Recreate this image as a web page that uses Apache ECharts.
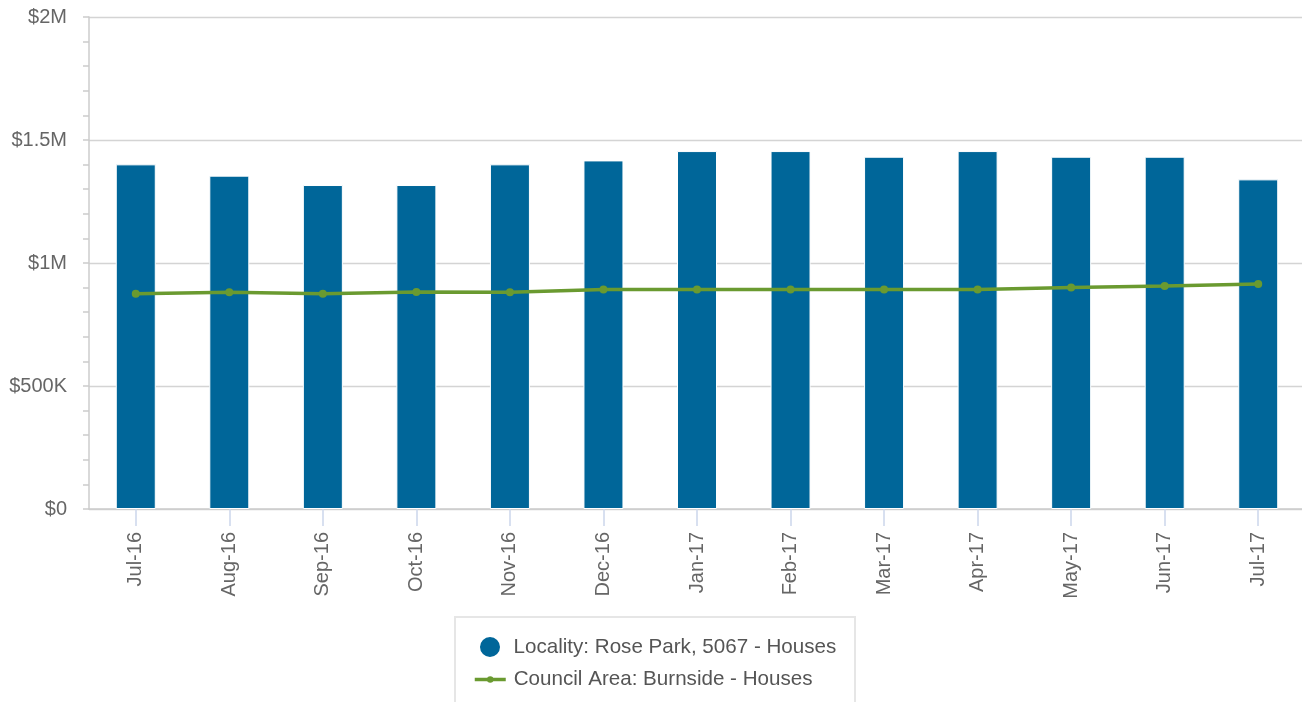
<!DOCTYPE html>
<html>
<head>
<meta charset="utf-8">
<script src="https://cdn.jsdelivr.net/npm/echarts@6/dist/echarts.min.js"></script>
<style>
html,body{margin:0;padding:0;background:#fff;overflow:hidden;width:1302px;height:702px;}
#chart{width:1305px;height:702px;}
</style>
</head>
<body>
<div id="chart"></div>
<script>
var categories = ['Jul-16','Aug-16','Sep-16','Oct-16','Nov-16','Dec-16','Jan-17','Feb-17','Mar-17','Apr-17','May-17','Jun-17','Jul-17'];
var localityValues = [1401000, 1355000, 1317000, 1317000, 1401000, 1417000, 1455000, 1455000, 1432000, 1455000, 1432000, 1432000, 1340000];
var councilValues = [875000, 881000, 875000, 882000, 881000, 892000, 892000, 892000, 892000, 892000, 900000, 906000, 915000];
var yTickLabels = ['$0', '$500K', '$1M', '$1.5M', '$2M'];
var seriesNames = ['Locality: Rose Park, 5067 - Houses', 'Council Area: Burnside - Houses'];

var FONT = '"Liberation Sans", Arial, sans-serif';
var chart = echarts.init(document.getElementById('chart'), null, {renderer: 'canvas'});
chart.setOption({
  animation: false,
  backgroundColor: '#ffffff',
  textStyle: {fontFamily: FONT},
  grid: {left: 89, right: 0, top: 17, bottom: 193, containLabel: false},
  xAxis: {
    type: 'category',
    data: categories,
    boundaryGap: true,
    axisLine: {show: true, lineStyle: {color: '#cccccc', width: 1.5}},
    axisTick: {show: true, alignWithLabel: true, length: 17, lineStyle: {color: '#ccd6eb', width: 1.5}},
    axisLabel: {rotate: 90, margin: 23, color: '#666666', fontSize: 20, fontFamily: FONT, interval: 0},
    splitLine: {show: false}
  },
  yAxis: {
    type: 'value',
    min: 0, max: 2000000, interval: 500000,
    axisLine: {show: true, lineStyle: {color: '#cccccc', width: 1.5}},
    axisTick: {show: true, length: 6, lineStyle: {color: '#cccccc', width: 1.5}},
    minorTick: {show: true, splitNumber: 5, length: 6, lineStyle: {color: '#cccccc', width: 1.5}},
    axisLabel: {
      margin: 22, color: '#666666', fontSize: 20, fontFamily: FONT, padding: [4, 0, 0, 0],
      formatter: function (v) { return yTickLabels[Math.round(v / 500000)]; }
    },
    splitLine: {show: true, lineStyle: {color: '#d4d4d4', width: 1.3}}
  },
  legend: [{
    data: [{name: seriesNames[0], icon: 'circle'}],
    left: 478, top: 635, padding: 0,
    itemWidth: 31, itemHeight: 22, itemGap: 0,
    textStyle: {fontSize: 20.6, color: '#555555', fontFamily: FONT, padding: [0, 0, 0, 3]},
    selectedMode: false
  }, {
    data: [{name: seriesNames[1]}],
    left: 473, top: 669, padding: 0,
    itemWidth: 31, itemHeight: 8, itemGap: 0,
    lineStyle: {width: 3.5, color: '#6a9a30'},
    textStyle: {fontSize: 20.6, color: '#555555', fontFamily: FONT, padding: [0, 0, 0, 3]},
    selectedMode: false
  }],
  graphic: [{
    type: 'rect',
    shape: {x: 455, y: 617, width: 400, height: 110},
    style: {fill: 'none', stroke: '#e6e6e6', lineWidth: 2},
    silent: true, z: -1
  }],
  series: [{
    name: seriesNames[0],
    type: 'bar',
    data: localityValues,
    barWidth: 40,
    itemStyle: {color: '#006699', borderColor: '#ffffff', borderWidth: 1}
  }, {
    name: seriesNames[1],
    type: 'line',
    data: councilValues,
    symbol: 'circle',
    symbolSize: 8,
    showSymbol: true,
    lineStyle: {color: '#6a9a30', width: 3.5},
    itemStyle: {color: '#6a9a30'},
    z: 5
  }]
});
</script>
</body>
</html>
